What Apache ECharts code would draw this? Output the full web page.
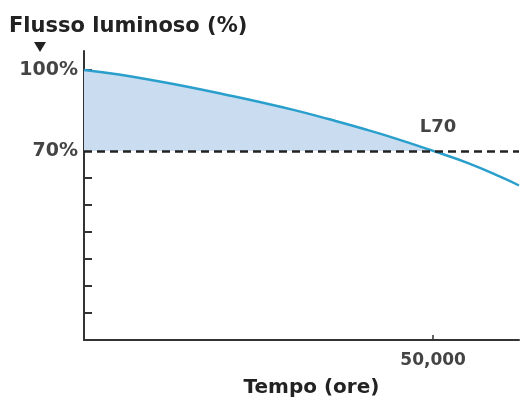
<!DOCTYPE html>
<html>
<head>
<meta charset="utf-8">
<script src="https://cdn.jsdelivr.net/npm/echarts@6/dist/echarts.min.js"></script>
<style>
  html, body { margin: 0; padding: 0; background: #fff; }
  #chart { width: 521px; height: 405px; }
</style>
</head>
<body>
<div id="chart"></div>
<script>
// ore di funzionamento
var ore = [0, 5000, 10000, 15000, 20000, 25000, 30000, 35000, 40000, 45000, 50000, 55000, 60000, 62300];
// flusso luminoso residuo (%)
var flusso = [100, 98.3, 96.1, 93.7, 91.0, 88.2, 85.2, 81.8, 78.2, 74.3, 70.0, 65.5, 60.0, 57.2];
var soglia = 70;
var puntoL70 = 50000;
var yTicks = [10, 20, 30, 40, 50, 60, 70, 80, 90, 100];
var yLabels = [70, 100];
var xLabels = [50000];

var chart = echarts.init(document.getElementById('chart'));

var curva = [], area = [];
for (var i = 0; i < ore.length; i++) {
    curva.push([ore[i], flusso[i]]);
    if (ore[i] <= puntoL70) area.push([ore[i], flusso[i]]);
}

var axisColor = '#333';
var font = 'DejaVu Sans';

var option = {
    animation: false,
    grid: { left: 84, right: 2, top: 51, bottom: 65 },
    xAxis: {
        type: 'value',
        min: 0,
        max: 62300,
        name: 'Tempo (ore)',
        nameLocation: 'middle',
        nameGap: 38,
        nameTextStyle: { color: '#222', fontFamily: font, fontWeight: 'bold', fontSize: 20, padding: [0, 0, 0, 20] },
        axisLine: { lineStyle: { color: axisColor, width: 2 } },
        axisTick: { show: true, inside: true, length: 5, customValues: xLabels, lineStyle: { color: axisColor, width: 1.5 } },
        axisLabel: {
            customValues: xLabels,
            color: '#444',
            fontFamily: font,
            fontWeight: 'bold',
            fontSize: 17,
            margin: 12,
            formatter: function(v) { return v.toLocaleString('en-US'); }
        },
        splitLine: { show: false }
    },
    yAxis: {
        type: 'value',
        min: 0,
        max: 107,
        axisLine: { show: true, lineStyle: { color: axisColor, width: 2 } },
        axisTick: { show: true, inside: true, length: 8, customValues: yTicks, lineStyle: { color: axisColor, width: 2 } },
        axisLabel: {
            customValues: yLabels,
            color: '#444',
            fontFamily: font,
            fontWeight: 'bold',
            fontSize: 19,
            margin: 6,
            formatter: '{value}%'
        },
        splitLine: { show: false }
    },
    graphic: [{
        type: 'text',
        left: 9,
        top: 16,
        style: { text: 'Flusso luminoso (%)', fill: '#222', font: 'bold 21px "DejaVu Sans"' }
    }, {
        type: 'polygon',
        shape: { points: [[34, 42], [46, 42], [40, 52]] },
        style: { fill: '#222' }
    }],
    series: [{
        type: 'line',
        data: area,
        smooth: true,
        symbol: 'none',
        lineStyle: { width: 0 },
        areaStyle: { origin: soglia, color: '#cadcf0', opacity: 1 },
        silent: true,
        z: 1
    }, {
        type: 'line',
        data: curva,
        smooth: true,
        symbol: 'none',
        lineStyle: { color: '#2a9fcc', width: 2.5 },
        z: 3,
        markLine: {
            silent: true,
            symbol: 'none',
            label: { show: false },
            lineStyle: { color: '#222', type: [8, 5], width: 2.5 },
            data: [{ yAxis: soglia }]
        },
        markPoint: {
            symbol: 'circle',
            symbolSize: 0,
            label: {
                show: true,
                formatter: 'L70',
                color: '#444',
                fontFamily: font,
                fontWeight: 'bold',
                fontSize: 18,
                offset: [5, -24]
            },
            data: [{ coord: [puntoL70, soglia] }]
        }
    }]
};

chart.setOption(option);
</script>
</body>
</html>
